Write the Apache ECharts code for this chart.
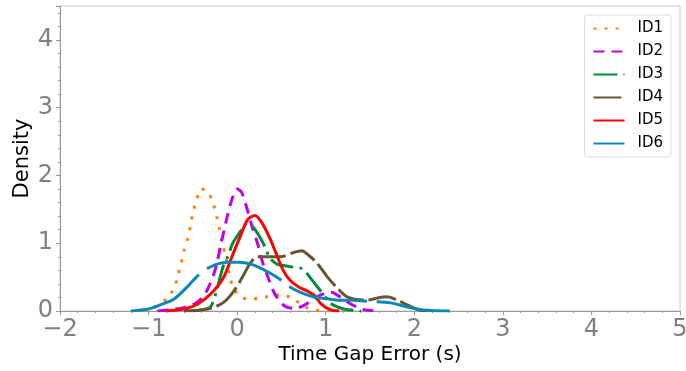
<!DOCTYPE html>
<html>
<head>
<meta charset="utf-8">
<script src="https://cdn.jsdelivr.net/npm/echarts@6/dist/echarts.min.js"></script>
<style>
  html, body { margin: 0; padding: 0; background: #fff; }
  #chart { width: 686px; height: 371px; }
</style>
</head>
<body>
<div id="chart"></div>
<script>
// KDE curves: [time gap error (s), density]
const id1 = [[-1.05,0],[-0.9,0.07],[-0.79,0.19],[-0.71,0.34],[-0.67,0.52],[-0.63,0.71],[-0.6,0.89],[-0.56,1.06],[-0.53,1.24],[-0.5,1.45],[-0.46,1.62],[-0.41,1.8],[-0.33,1.76],[-0.27,1.58],[-0.23,1.39],[-0.2,1.21],[-0.17,1.02],[-0.13,0.8],[-0.08,0.5],[-0.04,0.33],[0.05,0.2],[0.15,0.18],[0.25,0.19],[0.37,0.22],[0.5,0.24],[0.63,0.18],[0.77,0.06],[0.9,0.01],[1.05,0]];
const id2 = [[-0.9,0],[-0.75,0.02],[-0.6,0.05],[-0.45,0.13],[-0.35,0.28],[-0.25,0.6],[-0.18,1.0],[-0.12,1.35],[-0.06,1.64],[0,1.8],[0.05,1.75],[0.1,1.56],[0.17,1.24],[0.23,1.0],[0.28,0.75],[0.35,0.49],[0.43,0.24],[0.54,0.07],[0.65,0.04],[0.75,0.08],[0.86,0.17],[0.95,0.24],[1.05,0.28],[1.15,0.22],[1.25,0.13],[1.35,0.06],[1.47,0.01],[1.6,0]];
const id3 = [[-0.5,0],[-0.38,0.02],[-0.3,0.06],[-0.23,0.31],[-0.16,0.65],[-0.1,0.82],[-0.05,1.0],[0.06,1.22],[0.11,1.3],[0.18,1.24],[0.26,1.08],[0.32,0.93],[0.37,0.78],[0.45,0.69],[0.52,0.67],[0.62,0.65],[0.74,0.62],[0.82,0.5],[0.91,0.35],[1.0,0.2],[1.07,0.1],[1.2,0.03],[1.31,0.01],[1.4,0]];
const id4 = [[-0.6,0],[-0.45,0.01],[-0.3,0.04],[-0.16,0.12],[-0.05,0.27],[0.06,0.5],[0.15,0.71],[0.23,0.8],[0.34,0.8],[0.49,0.8],[0.63,0.86],[0.73,0.89],[0.8,0.83],[0.9,0.71],[1.02,0.5],[1.13,0.34],[1.24,0.21],[1.35,0.17],[1.47,0.16],[1.58,0.19],[1.69,0.21],[1.81,0.16],[1.92,0.09],[2.07,0.01],[2.2,0]];
const id5 = [[-0.8,0],[-0.6,0.03],[-0.45,0.1],[-0.3,0.25],[-0.16,0.48],[-0.05,0.83],[0.05,1.15],[0.12,1.35],[0.2,1.41],[0.28,1.3],[0.36,1.1],[0.44,0.85],[0.52,0.6],[0.6,0.45],[0.7,0.35],[0.8,0.29],[0.88,0.22],[0.95,0.1],[1.05,0.02],[1.15,0]];
const id6 = [[-1.2,0],[-1.0,0.03],[-0.87,0.09],[-0.72,0.17],[-0.56,0.36],[-0.42,0.55],[-0.27,0.67],[-0.11,0.72],[0.03,0.72],[0.18,0.68],[0.37,0.56],[0.49,0.46],[0.6,0.35],[0.71,0.28],[0.86,0.21],[1.02,0.18],[1.16,0.16],[1.3,0.16],[1.5,0.14],[1.73,0.12],[1.92,0.06],[2.1,0.015],[2.4,0]];

const seriesNames = ["ID1", "ID2", "ID3", "ID4", "ID5", "ID6"];
const seriesData = [id1, id2, id3, id4, id5, id6];
const seriesColors = ["#ff7f0e", "#bf00ef", "#008c3a", "#6a5433", "#ff0000", "#0a88b3"];
const seriesDash = [[3, 8], [11, 7], [24, 6, 3, 6], [28, 5], "solid", [80, 10]];

const xTicks = [-2, -1, 0, 1, 2, 3, 4, 5];
const yTicks = [0, 1, 2, 3, 4];

const fontFamily = "'DejaVu Sans', sans-serif";
const minus = (v) => String(v).replace("-", "\u2212");

const chart = echarts.init(document.getElementById("chart"));

chart.setOption({
  animation: false,
  grid: {
    left: 60, right: 6, top: 6, bottom: 60,
    outerBoundsMode: "none",
    containLabel: false,
    show: true,
    borderColor: "#c8c8c8",
    borderWidth: 1
  },
  legend: {
    orient: "vertical",
    right: 15,
    top: 15,
    padding: [6, 8, 6, 8],
    itemWidth: 31,
    itemHeight: 14,
    itemGap: 8,
    backgroundColor: "#fff",
    borderColor: "#dcdcdc",
    borderWidth: 1,
    borderRadius: 3,
    itemStyle: { opacity: 0 },
    data: seriesNames,
    textStyle: { fontFamily, fontSize: 15, color: "#000", padding: [0, 0, 0, 8] }
  },
  xAxis: {
    type: "value",
    min: xTicks[0],
    max: xTicks[xTicks.length - 1],
    interval: 1,
    name: "Time Gap Error (s)",
    nameLocation: "middle",
    nameGap: 34,
    nameMoveOverlap: false,
    nameTextStyle: { fontFamily, fontSize: 20, color: "#000" },
    axisLine: { show: true, onZero: false, lineStyle: { color: "#999", width: 1 } },
    axisTick: { show: true, length: 4, lineStyle: { color: "#999" } },
    minorTick: { show: true, splitNumber: 5, length: 2, lineStyle: { color: "#999" } },
    splitLine: { show: false },
    axisLabel: {
      fontFamily, fontSize: 24, color: "#808080", margin: 7,
      formatter: (v) => minus(v)
    }
  },
  yAxis: {
    type: "value",
    min: yTicks[0],
    max: 4.5,
    interval: 1,
    name: "Density",
    nameLocation: "middle",
    nameGap: 27,
    nameMoveOverlap: false,
    nameTextStyle: { fontFamily, fontSize: 21, color: "#000" },
    axisLine: { show: true, onZero: false, lineStyle: { color: "#999", width: 1 } },
    axisTick: { show: true, length: 4, lineStyle: { color: "#999" } },
    minorTick: { show: true, splitNumber: 5, length: 2, lineStyle: { color: "#999" } },
    splitLine: { show: false },
    axisLabel: {
      fontFamily, fontSize: 24, color: "#808080", margin: 7,
      formatter: (v) => (yTicks.includes(v) ? minus(v) : "")
    }
  },
  series: seriesNames.map((name, i) => ({
    name,
    type: "line",
    smooth: 0.3,
    symbol: "none",
    data: seriesData[i],
    color: seriesColors[i],
    lineStyle: { color: seriesColors[i], width: 3, type: seriesDash[i] }
  }))
});
</script>
</body>
</html>
